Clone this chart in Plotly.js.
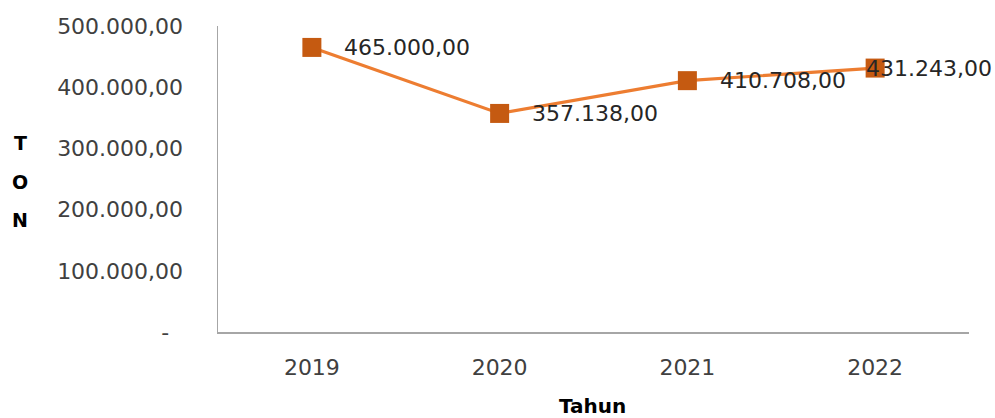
<!DOCTYPE html>
<html>
<head>
<meta charset="utf-8">
<script src="https://cdn.plot.ly/plotly-3.0.1.min.js"></script>
<style>html,body{margin:0;padding:0;background:#fff;}#chart{width:995px;height:418px;}</style>
</head>
<body>
<div id="chart"></div>
<script>
const years = ['2019', '2020', '2021', '2022'];
const tons = [465000, 357138, 410708, 431243];
const yTickVals = [0, 100000, 200000, 300000, 400000, 500000];
const yTickText = ['-\u00a0\u00a0', '100.000,00', '200.000,00', '300.000,00', '400.000,00', '500.000,00'];
const labelShift = [30, 30, 31, -11];

function fmtID(v) {
  const parts = v.toFixed(2).split('.');
  const intPart = parts[0].replace(/\B(?=(\d{3})+(?!\d))/g, '.');
  return intPart + ',' + parts[1];
}

const FONT = 'DejaVu Sans, sans-serif';

const trace = {
  type: 'scatter',
  mode: 'lines+markers',
  x: years,
  y: tons,
  line: {color: '#ED7D31', width: 3.2},
  marker: {symbol: 'square', size: 19, color: '#C55A11', line: {width: 0}},
  hoverinfo: 'skip',
  cliponaxis: false
};

// category axis: annotations positioned by category index
const annotations = years.map((yr, i) => ({
  x: i, y: tons[i], xref: 'x', yref: 'y',
  text: fmtID(tons[i]),
  showarrow: false, xanchor: 'left', yanchor: 'middle',
  xshift: labelShift[i],
  font: {family: FONT, size: 22, color: '#262626'}
}));

const L = 218, R = 26, T = 26, B = 86, W = 995, H = 418;
const px2x = px => (px - L) / (W - L - R);
const px2y = py => (H - B - py) / (H - T - B);

const yTitle = ['T', 'O', 'N'];
const yTitlePos = [143, 182, 220];
yTitle.forEach((ch, i) => {
  annotations.push({
    x: px2x(20), y: px2y(yTitlePos[i]), xref: 'paper', yref: 'paper',
    text: '<b>' + ch + '</b>', showarrow: false,
    xanchor: 'center', yanchor: 'middle',
    font: {family: FONT, size: 19, color: '#000'}
  });
});

annotations.push({
  x: px2x(592), y: px2y(406), xref: 'paper', yref: 'paper',
  text: '<b>Tahun</b>', showarrow: false, xanchor: 'center', yanchor: 'middle',
  font: {family: FONT, size: 20, color: '#000'}
});

const layout = {
  width: W, height: H,
  margin: {l: L, r: R, t: T, b: B, pad: 0},
  paper_bgcolor: '#fff', plot_bgcolor: '#fff',
  showlegend: false,
  xaxis: {
    type: 'category', range: [-0.5, 3.5],
    showgrid: false, zeroline: false,
    showline: true, linecolor: '#A6A6A6', linewidth: 1.5,
    ticks: '', ticklabelstandoff: 15,
    tickfont: {family: FONT, size: 22, color: '#404040'},
    fixedrange: true
  },
  yaxis: {
    range: [0, 500000],
    tickvals: yTickVals, ticktext: yTickText,
    showgrid: false, zeroline: false,
    showline: true, linecolor: '#A6A6A6', linewidth: 1.5,
    ticks: '', ticklabelstandoff: 29,
    tickfont: {family: FONT, size: 22, color: '#404040'},
    fixedrange: true
  },
  annotations: annotations
};

Plotly.newPlot('chart', [trace], layout, {displayModeBar: false, staticPlot: true});
</script>
</body>
</html>
